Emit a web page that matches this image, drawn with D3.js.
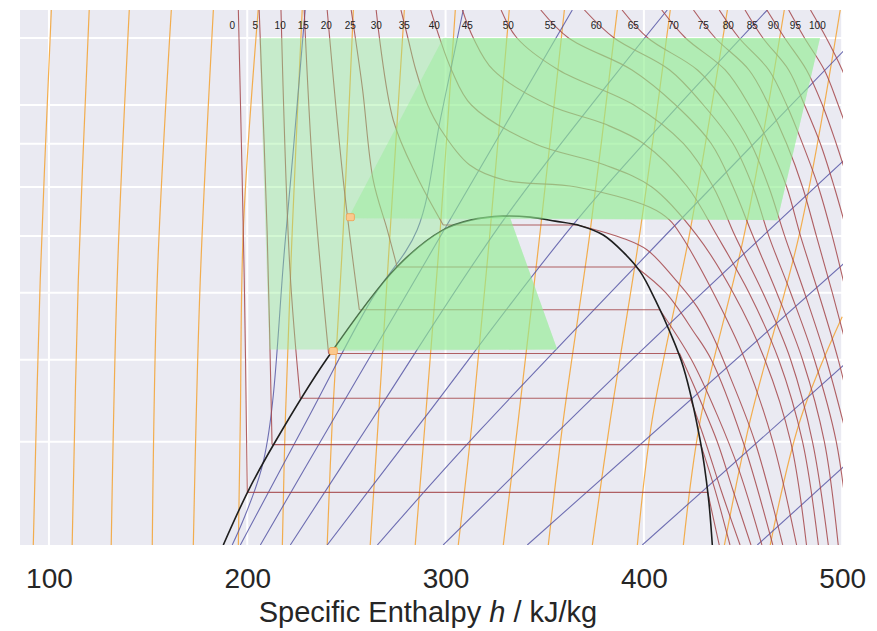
<!DOCTYPE html>
<html>
<head>
<meta charset="utf-8">
<script src="https://cdn.jsdelivr.net/npm/d3@7"></script>
<style>
  body { margin: 0; background: #fff; }
  svg { display: block; }
</style>
</head>
<body>
<svg id="chart" width="877" height="631"></svg>
<script>
// p-h chart values, h in kJ/kg and p in MPa
const hTicks = [100, 200, 300, 400, 500]
const pGrid = [4, 5, 6, 7, 8, 9, 10, 12]

const tempLabels = [0, 5, 10, 15, 20, 25, 30, 35, 40, 45, 50, 55, 60, 65, 70, 75, 80, 85, 90, 95, 100]
const tempLabelH = [192.4, 204, 216.6, 228.2, 239.8, 251.9, 265.1, 279.2, 294.3, 310.9, 331.6, 352.8,
  376, 394.7, 414.8, 430, 442.6, 454.7, 465.3, 476.4, 487.5]

// saturation dome
const satLine = [[187.9, 3.02], [200.5, 3.5], [214.1, 4.0], [239.8, 5.0], [275.6, 6.44], [298.8, 7.12],
  [312.5, 7.31], [329.1, 7.39], [342.7, 7.37], [355.3, 7.29], [367.9, 7.2], [379.5, 7.02], [389.6, 6.7],
  [398.2, 6.35], [405.8, 5.88], [413.3, 5.38], [419.9, 4.9], [428.5, 4.0], [432.5, 3.44], [434.5, 3.02]]

// isotherms: liquid branch / vapour branch (subcritical) or one branch (supercritical)
const isotherms = [
  { t: 0, parts: [[[195.5, 12.95], [198.5, 6.2], [200, 3.485]], [[432.2, 3.485], [435, 3.25], [438, 3.02]]] },
  { t: 5, parts: [[[206, 12.95], [210, 7.1], [212.5, 3.969]], [[428.7, 3.969], [436, 3.5], [443.4, 3.02]]] },
  { t: 10, parts: [[[217, 12.95], [221.5, 6.4], [226.7, 4.502]], [[423.4, 4.502], [431, 4.0], [439, 3.5], [448.5, 3.02]]] },
  { t: 15, parts: [[[228.7, 12.95], [233.3, 8.15], [241, 5.086]], [[418, 5.086], [428, 4.5], [437, 4.0], [445, 3.5], [454, 3.02]]] },
  { t: 20, parts: [[[240.3, 12.95], [248.4, 8.15], [256.5, 5.729]], [[408, 5.729], [424, 5.0], [437, 4.3], [448, 3.7], [459.5, 3.02]]] },
  { t: 25, parts: [[[252.4, 12.95], [258, 10.5], [263.5, 8.15], [270.6, 7.12], [275.6, 6.434]],
    [[396, 6.434], [411, 6.0], [425, 5.4], [434, 5.0], [450, 4.0], [465, 3.02]]] },
  { t: 30, parts: [[[265, 12.95], [273.6, 9.6], [285.7, 8.22], [298.8, 7.214]],
    [[366.4, 7.214], [390, 6.95], [401.7, 6.74], [414.8, 6.26], [426.9, 5.77], [435, 5.32], [442.1, 4.86], [456, 4.0], [470, 3.02]]] },
  { t: 35, parts: [[[277.5, 12.95], [281, 12], [285, 11], [291, 10], [297, 9.4], [312, 8.5], [330, 8.15], [366, 8.0],
    [403, 7.57], [413, 7.31], [419, 7], [435, 6], [451, 5], [465, 4], [477, 3.02]]] },
  { t: 40, parts: [[[292.5, 12.95], [297, 12], [303, 11], [313, 10], [345, 9], [380, 8.5], [404, 8], [427, 7],
    [445, 6], [461, 5], [474, 4], [482, 3.02]]] },
  { t: 45, parts: [[[308.5, 12.95], [314, 12], [324, 11], [352, 10], [380, 9.5], [400, 9], [422, 8], [437, 7],
    [453, 6], [468, 5], [480, 4], [488, 3.02]]] },
  { t: 50, parts: [[[328, 12.95], [336, 12], [357, 11], [395, 10], [420, 9], [435, 8], [446, 7], [460, 6],
    [474, 5], [485, 4], [493, 3.02]]] },
  { t: 55, parts: [[[348, 12.95], [362, 12], [394, 11], [416, 10], [434, 9], [445, 8], [455, 7], [467, 6],
    [480, 5], [491, 4], [498, 3.02]]] },
  { t: 60, parts: [[[370, 12.95], [385, 12], [413, 11], [430, 10], [445, 9], [455, 8], [463, 7], [474, 6],
    [486, 5], [497, 4], [504, 3.02]]] },
  { t: 65, parts: [[[389, 12.95], [402, 12], [427, 11], [442, 10], [454, 9], [463, 8], [471, 7], [481, 6], [492, 5], [503, 4]]] },
  { t: 70, parts: [[[409, 12.95], [421, 12], [441, 11], [453, 10], [463, 9], [472, 8], [479, 7], [488, 6], [498, 5], [508, 4]]] },
  { t: 75, parts: [[[425, 12.95], [436, 12], [453, 11], [463, 10], [472, 9], [480, 8], [487, 7], [495, 6], [504, 5]]] },
  { t: 80, parts: [[[438, 12.95], [448, 12], [463, 11], [472, 10], [480, 9], [488, 8], [495, 7], [502, 6]]] },
  { t: 85, parts: [[[451, 12.95], [460, 12], [473, 11], [481, 10], [489, 9], [496, 8], [503, 7]]] },
  { t: 90, parts: [[[462, 12.95], [471, 12], [482, 11], [490, 10], [497, 9], [504, 8]]] },
  { t: 95, parts: [[[473, 12.95], [481, 12], [491, 11], [498, 10], [505, 9]]] },
  { t: 100, parts: [[[484, 12.95], [492, 12], [500, 11], [507, 10]]] }
]

// isentropes
const isentropes = [
  [[192.4, 3.02], [208.1, 3.79], [219.2, 6.93], [229.2, 12.95]],
  [[196.5, 3.02], [230.3, 4.25], [262.5, 5.88], [285.7, 7.12], [297.3, 9.6], [308.9, 12.95]],
  [[206.6, 3.02], [243.4, 4.25], [299.3, 7.12], [363.9, 12.95]],
  [[221.7, 3.02], [263.0, 4.25], [330.6, 7.39], [411.8, 12.95]],
  [[240.3, 3.02], [288.8, 4.25], [367.9, 7.39], [462.2, 12.95]],
  [[265.6, 3.02], [317.5, 4.13], [500.9, 11.6]],
  [[298.8, 3.02], [398.2, 5.11], [500.9, 8.6]],
  [[341.2, 3.02], [500.9, 6.5]],
  [[399.2, 3.02], [500.9, 4.93]],
  [[457.2, 3.02], [500.9, 3.74]]
]

// isochores
const isochores = [
  [[101.2, 12.95], [95.6, 6.21], [92.1, 3.02]],
  [[120.3, 12.95], [114.8, 6.21], [111.7, 3.02]],
  [[140.5, 12.95], [134.4, 6.21], [131.4, 3.02]],
  [[161.7, 12.95], [154.6, 6.21], [152.1, 3.02]],
  [[182.9, 12.95], [176.3, 6.21], [172.8, 3.02]],
  [[205.5, 12.95], [198.0, 7.12], [196.5, 4.25], [195.5, 3.02]],
  [[227.7, 12.95], [222.7, 7.12], [219.2, 4.25], [217.7, 3.02]],
  [[253.5, 12.95], [248.4, 7.12], [242.9, 4.25], [240.3, 3.02]],
  [[279.2, 12.95], [272.1, 7.12], [266.1, 4.25], [262.0, 3.02]],
  [[304.9, 12.95], [297.3, 7.12], [289.8, 4.25], [284.7, 3.02]],
  [[332.1, 12.95], [322.5, 7.12], [313.5, 4.25], [306.4, 3.02]],
  [[359.9, 12.95], [347.8, 7.12], [336.7, 4.25], [329.1, 3.02]],
  [[386.6, 12.95], [373.0, 7.12], [359.4, 4.25], [351.8, 3.02]],
  [[413.3, 12.95], [398.2, 7.12], [383.1, 4.25], [374.0, 3.02]],
  [[442.1, 12.95], [423.4, 7.12], [404.2, 4.25], [396.7, 3.02]],
  [[470.8, 12.95], [451.1, 7.12], [428.5, 4.25], [419.9, 3.02]],
  [[499.0, 12.95], [478.9, 7.12], [453.7, 4.25], [440.6, 3.02]],
  [[500.0, 5.62], [478.9, 4.25], [463.7, 3.02]]
]

// shaded regions and state points
const regionAll = [[206.1, 12.0], [488.8, 12.0], [467.3, 7.31], [332.6, 7.35], [356.3, 5.14], [211.1, 5.14]]
const regionHigh = [[250.9, 7.35], [298.8, 12.0], [488.8, 12.0], [467.3, 7.31]]
const regionLowEdge = [[243.4, 5.12], [275.6, 6.44], [298.8, 7.12], [312.5, 7.31], [329.1, 7.39], [332.6, 7.35]]
const regionLowEnd = [356.3, 5.14]
const statePoints = [[252.0, 7.37], [243.4, 5.12]]

const plot = { left: 20, right: 843, top: 10, bottom: 545 }

const x = d3.scaleLinear().domain([85.4, 500.4]).range([plot.left, plot.right])
const y = d3.scaleLog().domain([3.02, 12.95]).range([plot.bottom, plot.top])

const svg = d3.select('#chart')

svg.append('defs').append('clipPath')
    .attr('id', 'plot-clip')
  .append('rect')
    .attr('x', plot.left)
    .attr('y', plot.top)
    .attr('width', plot.right - plot.left)
    .attr('height', plot.bottom - plot.top)

svg.append('rect')
    .attr('x', plot.left)
    .attr('y', plot.top)
    .attr('width', plot.right - plot.left)
    .attr('height', plot.bottom - plot.top)
    .attr('fill', '#eaeaf2')

// grid
const grid = svg.append('g').attr('class', 'grid')
grid.selectAll('line.v')
  .data(hTicks)
  .join('line')
    .attr('class', 'v')
    .attr('x1', d => x(d)).attr('x2', d => x(d))
    .attr('y1', plot.top).attr('y2', plot.bottom)
    .attr('stroke', '#fff').attr('stroke-width', 2)
grid.selectAll('line.h')
  .data(pGrid)
  .join('line')
    .attr('class', 'h')
    .attr('x1', plot.left).attr('x2', plot.right)
    .attr('y1', d => y(d)).attr('y2', d => y(d))
    .attr('stroke', '#fff').attr('stroke-width', 2)

const smooth = d3.line()
    .x(d => x(d[0]))
    .y(d => y(d[1]))
    .curve(d3.curveCatmullRom.alpha(0.5))
const straight = d3.line()
    .x(d => x(d[0]))
    .y(d => y(d[1]))

const lines = svg.append('g').attr('clip-path', 'url(#plot-clip)')

lines.append('g').selectAll('path')
  .data(isochores)
  .join('path')
    .attr('d', smooth)
    .attr('fill', 'none')
    .attr('stroke', '#f3a63c')
    .attr('stroke-opacity', 0.9)
    .attr('stroke-width', 1.2)

lines.append('g').selectAll('path')
  .data(isentropes)
  .join('path')
    .attr('d', smooth)
    .attr('fill', 'none')
    .attr('stroke', '#5757a6')
    .attr('stroke-opacity', 0.85)
    .attr('stroke-width', 1.1)

const isoG = lines.append('g')
isotherms.forEach(iso => {
    iso.parts.forEach(part => {
        isoG.append('path')
            .attr('d', smooth(part))
            .attr('fill', 'none')
            .attr('stroke', '#a4464a')
            .attr('stroke-opacity', 0.85)
            .attr('stroke-width', 1.1)
    })
    // horizontal plateau inside the dome
    if (iso.parts.length === 2) {
        const a = iso.parts[0][iso.parts[0].length - 1]
        const b = iso.parts[1][0]
        isoG.append('path')
            .attr('d', straight([a, b]))
            .attr('fill', 'none')
            .attr('stroke', '#a4464a')
            .attr('stroke-opacity', 0.85)
            .attr('stroke-width', 1.1)
    }
})

lines.append('path')
    .attr('d', smooth(satLine))
    .attr('fill', 'none')
    .attr('stroke', '#1e1e1e')
    .attr('stroke-width', 1.6)

// green shading drawn over the lines
const shade = svg.append('g').attr('clip-path', 'url(#plot-clip)')
shade.append('path')
    .attr('d', straight(regionAll) + 'Z')
    .attr('fill', '#90ee90')
    .attr('fill-opacity', 0.4)
shade.append('path')
    .attr('d', straight(regionHigh) + 'Z')
    .attr('fill', '#90ee90')
    .attr('fill-opacity', 0.4)
shade.append('path')
    .attr('d', smooth(regionLowEdge) + `L${x(regionLowEnd[0])},${y(regionLowEnd[1])}Z`)
    .attr('fill', '#90ee90')
    .attr('fill-opacity', 0.4)

svg.append('g').selectAll('rect')
  .data(statePoints)
  .join('rect')
    .attr('x', d => x(d[0]) - 4)
    .attr('y', d => y(d[1]) - 3.5)
    .attr('width', 8)
    .attr('height', 7)
    .attr('rx', 1.5)
    .attr('fill', '#fbc98e')
    .attr('stroke', '#f0a050')
    .attr('stroke-width', 0.8)

// temperature labels along the top
svg.append('g').selectAll('text')
  .data(tempLabels)
  .join('text')
    .attr('x', (d, i) => x(tempLabelH[i]))
    .attr('y', y(12.42))
    .attr('dy', '0.35em')
    .attr('text-anchor', 'middle')
    .attr('font-family', 'Liberation Sans, Arial, sans-serif')
    .attr('font-size', 10)
    .attr('fill', '#222')
    .text(d => d)

// x axis
const xAxis = svg.append('g')
    .attr('transform', `translate(0,${plot.bottom})`)
    .call(d3.axisBottom(x).tickValues(hTicks).tickSize(0).tickPadding(23))
xAxis.select('path.domain').remove()
xAxis.selectAll('text')
    .attr('font-family', 'Liberation Sans, Arial, sans-serif')
    .attr('font-size', 28)
    .attr('fill', '#262626')

const title = svg.append('text')
    .attr('x', 428)
    .attr('y', 622)
    .attr('text-anchor', 'middle')
    .attr('font-family', 'Liberation Sans, Arial, sans-serif')
    .attr('font-size', 29)
    .attr('fill', '#262626')
title.append('tspan').text('Specific Enthalpy ')
title.append('tspan').attr('font-style', 'italic').text('h')
title.append('tspan').text(' / kJ/kg')
</script>
</body>
</html>
